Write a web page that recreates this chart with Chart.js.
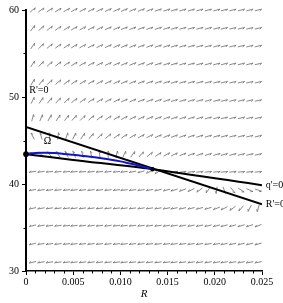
<!DOCTYPE html>
<html>
<head>
<meta charset="utf-8">
<script src="https://cdn.jsdelivr.net/npm/chart.js@4.4.0/dist/chart.umd.min.js"></script>
<style>
  html, body { margin: 0; padding: 0; background: #fff; }
  canvas { display: block; }
</style>
</head>
<body>
<canvas id="phaseChart" width="283" height="303"></canvas>
<script>
// --- Curves (R on x, q on y) ---
const rNullR = [0, 0.025];
const rNullQ = [46.57, 37.68];
const qNullR = [0, 0.005, 0.0134, 0.025];
const qNullQ = [43.43, 42.77, 41.7, 39.86];
const orbitR = [0, 0.001, 0.002, 0.003, 0.004, 0.005, 0.006, 0.007, 0.008, 0.009, 0.010, 0.011, 0.012, 0.0134];
const orbitQ = [43.43, 43.57, 43.6, 43.55, 43.46, 43.35, 43.23, 43.1, 42.95, 42.8, 42.6, 42.35, 42.1, 41.7];
const dotR = [0, 0.0134];
const dotQ = [43.43, 41.7];

// --- Direction field grid ---
const fieldR = [0.0007, 0.0016, 0.0025, 0.0034, 0.0043, 0.0051, 0.0060, 0.0069, 0.0078, 0.0087,
  0.0096, 0.0104, 0.0113, 0.0122, 0.0131, 0.0140, 0.0149, 0.0157, 0.0166, 0.0175,
  0.0184, 0.0193, 0.0202, 0.0210, 0.0219, 0.0228, 0.0237, 0.0246];
const fieldQ = [31.0, 33.1, 35.2, 37.2, 39.3, 41.4, 43.4, 45.5, 47.6, 49.6, 51.7, 53.8, 55.85, 57.9, 60.0];
// arrow direction in degrees (0 = right, 90 = up), one row per fieldQ value
const fieldAngle = [
  [194,191,190,189,188,188,188,188,188,188,188,188,188,188,188,188,188,188,189,189,189,189,190,190,190,191,191,192],
  [194,191,190,189,188,188,188,188,188,188,188,188,188,188,188,188,189,189,189,190,190,191,191,192,193,194,195,196],
  [194,191,190,189,188,188,188,188,188,188,188,188,188,188,189,189,190,190,191,192,193,194,195,196,197,198,200,202],
  [193,190,189,188,188,188,188,188,188,188,188,188,188,189,189,190,191,192,193,194,196,198,202,208,218,230,243,255],
  [192,190,189,188,188,188,188,188,188,188,188,188,189,190,191,193,195,198,202,208,218,235,262,290,312,328,337,342],
  [190,189,188,188,187,187,187,187,187,187,188,189,192,198,205,215,330,8,8,7,7,7,6,6,6,6,6,6],
  [150,140,132,126,120,115,110,104,98,92,78,65,56,49,40,34,30,27,24,22,20,19,18,17,16,15,15,14],
  [118,108,96,84,72,64,57,51,46,42,38,35,32,30,28,26,24,22,21,20,19,18,17,16,15,15,14,14],
  [75,68,62,58,54,50,46,42,38,35,32,30,28,26,24,22,21,20,19,18,17,16,15,15,14,14,13,13],
  [65,58,52,48,44,40,37,34,32,30,28,26,25,23,22,21,20,19,18,17,16,16,15,15,14,14,13,13],
  [60,52,46,42,38,35,33,31,29,27,26,24,23,22,21,20,19,18,17,17,16,15,15,14,14,13,13,13],
  [58,48,43,39,36,33,31,29,28,26,25,24,23,22,21,20,19,18,17,17,16,15,15,14,14,14,13,13],
  [56,46,41,37,34,32,30,28,27,26,25,24,23,22,21,20,19,18,17,17,16,16,15,15,14,14,14,13],
  [54,44,39,36,33,31,29,28,27,25,24,23,22,21,20,20,19,18,17,17,16,16,15,15,14,14,14,13],
  [40,36,34,32,31,30,29,28,27,26,25,24,23,22,21,20,19,18,18,17,17,16,16,15,15,15,14,14]
];

// --- Minor ticks and text labels ---
const minorR = [0.001, 0.002, 0.003, 0.004, 0.006, 0.007, 0.008, 0.009, 0.011, 0.012, 0.013, 0.014,
  0.016, 0.017, 0.018, 0.019, 0.021, 0.022, 0.023, 0.024];
const minorQ = [35, 45, 55];
const noteText = ["R'=0", "\u03A9", "q'=0", "R'=0"];
const noteR = [0.00035, 0.00228, 0.0254, 0.0254];
const noteQ = [50.8, 44.87, 39.86, 37.7];

const SERIF = "'Liberation Serif', 'Times New Roman', serif";
const pts = (xs, ys) => xs.map((x, i) => ({ x, y: ys[i] }));

const fieldPlugin = {
  id: 'field',
  beforeDatasetsDraw(chart) {
    const { ctx, scales: { x, y } } = chart;
    ctx.save();
    ctx.strokeStyle = '#737373';
    ctx.lineWidth = 0.85;
    fieldQ.forEach((q, i) => {
      fieldR.forEach((r, j) => {
        const a = fieldAngle[i][j] * Math.PI / 180;
        const cx = x.getPixelForValue(r), cy = y.getPixelForValue(q);
        const dx = Math.cos(a), dy = -Math.sin(a);
        const tx = cx + dx * 3.5, ty = cy + dy * 3.5;
        const b = a + Math.PI + Math.PI / 6; // single barb (half arrow)
        ctx.beginPath();
        ctx.moveTo(cx - dx * 3.5, cy - dy * 3.5);
        ctx.lineTo(tx, ty);
        ctx.lineTo(tx + Math.cos(b) * 2.6, ty - Math.sin(b) * 2.6);
        ctx.stroke();
      });
    });
    ctx.restore();
  },
  afterDraw(chart) {
    const { ctx, chartArea: area, scales: { x, y } } = chart;
    ctx.save();
    ctx.strokeStyle = '#000';
    ctx.lineWidth = 1;
    ctx.beginPath();
    minorR.forEach(r => {
      const px = Math.round(x.getPixelForValue(r)) + 0.5;
      ctx.moveTo(px, area.bottom); ctx.lineTo(px, area.bottom + 2.5);
    });
    minorQ.forEach(q => {
      const py = Math.round(y.getPixelForValue(q)) + 0.5;
      ctx.moveTo(area.left, py); ctx.lineTo(area.left - 2.5, py);
    });
    ctx.stroke();
    ctx.fillStyle = '#000';
    ctx.font = '10px ' + SERIF;
    ctx.textBaseline = 'middle';
    noteText.forEach((t, i) => {
      ctx.textAlign = i === 1 ? 'center' : 'left';
      ctx.fillText(t, x.getPixelForValue(noteR[i]), y.getPixelForValue(noteQ[i]));
    });
    ctx.restore();
  }
};

Chart.defaults.font.family = SERIF;
Chart.defaults.font.size = 10;
Chart.defaults.color = '#000';

// first dataset is painted last, so dots go first and the black nullclines last
new Chart(document.getElementById('phaseChart'), {
  type: 'scatter',
  data: {
    datasets: [
      { data: pts(dotR, dotQ), pointRadius: [2.8, 2.2], pointBackgroundColor: '#000', pointBorderColor: '#000', pointBorderWidth: 0, clip: false },
      { data: pts(orbitR, orbitQ), showLine: true, borderColor: '#1414c8', borderWidth: 2, pointRadius: 0, tension: 0.4 },
      { data: pts(rNullR, rNullQ), showLine: true, borderColor: '#000', borderWidth: 2, pointRadius: 0 },
      { data: pts(qNullR, qNullQ), showLine: true, borderColor: '#000', borderWidth: 2, pointRadius: 0, tension: 0.3 }
    ]
  },
  options: {
    responsive: false,
    animation: false,
    layout: { padding: { left: 0, right: 21, top: 10, bottom: 0 } },
    plugins: { legend: { display: false }, tooltip: { enabled: false } },
    scales: {
      x: {
        type: 'linear', min: 0, max: 0.025,
        afterFit: s => { s.height = 32; },
        border: { display: true, color: '#000', width: 1.5 },
        grid: { display: true, drawOnChartArea: false, drawTicks: true, tickLength: 4, color: '#000' },
        ticks: { stepSize: 0.005, padding: 1, maxRotation: 0, callback: v => v === 0 ? '0' : v.toFixed(3) },
        title: { display: true, text: 'R', padding: { top: 0, bottom: 2 }, font: { family: SERIF, size: 11, style: 'italic' } }
      },
      y: {
        type: 'linear', min: 30, max: 60,
        afterFit: s => { s.width = 26; },
        border: { display: true, color: '#000', width: 2 },
        grid: { display: true, drawOnChartArea: false, drawTicks: true, tickLength: 4, color: '#000' },
        ticks: { stepSize: 10, padding: 3 }
      }
    }
  },
  plugins: [fieldPlugin]
});
</script>
</body>
</html>
